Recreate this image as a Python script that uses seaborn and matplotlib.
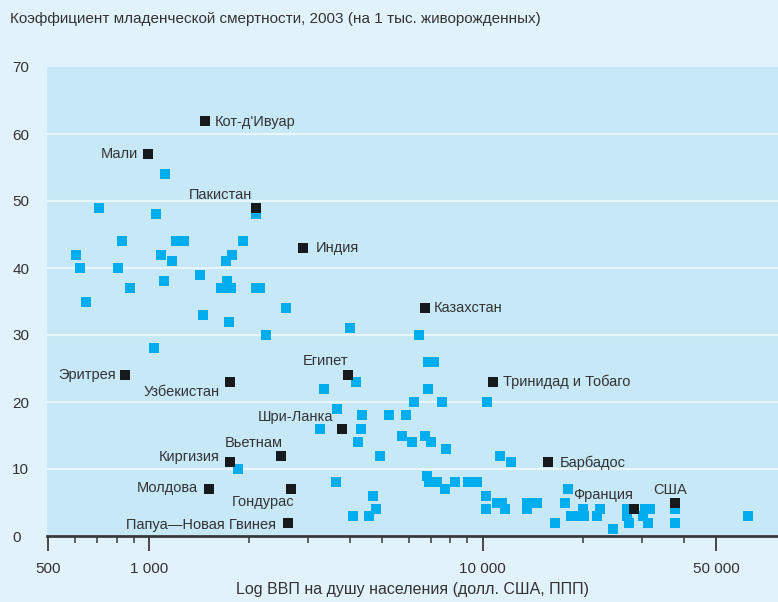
import matplotlib
matplotlib.use("Agg")
import matplotlib.pyplot as plt
import matplotlib.ticker as mticker
import seaborn as sns
import pandas as pd

# ---- data ----
other_gdp = [1114, 707, 1047, 2086, 829, 1202, 1270, 1908, 603, 1084, 1770, 1170, 1698,
             620, 806, 1419, 1107, 1710, 876, 1640, 1757, 2086, 2150, 646, 2583, 1448,
             1733, 3990, 2235, 6427, 1033, 6840, 7129, 4159, 3357, 6840, 6210, 7575,
             10329, 3672, 4335, 5257, 5873, 3265, 4305, 5713, 6699, 4217, 6122, 6983,
             7788, 4909, 11300, 12190, 1844, 6792, 3647, 6887, 7278, 8283, 9058, 9639,
             7734, 18070, 4677, 10260, 11061, 11450, 13610, 14580, 17690, 4775, 10260,
             11695, 13610, 20040, 22510, 27100, 30700, 31800, 37760, 4101, 4579, 18450,
             19230, 20180, 22050, 27100, 30270, 62430, 16510, 27500, 31330, 37760, 24620]
other_imr = [54, 49, 48, 48, 44, 44, 44, 44, 42, 42, 42, 41, 41,
             40, 40, 39, 38, 38, 37, 37, 37, 37, 37, 35, 34, 33,
             32, 31, 30, 30, 28, 26, 26, 23, 22, 22, 20, 20,
             20, 19, 18, 18, 18, 16, 16, 15, 15, 14, 14, 14,
             13, 12, 12, 11, 10, 9, 8, 8, 8, 8, 8, 8,
             7, 7, 6, 6, 5, 5, 5, 5, 5, 4, 4,
             4, 4, 4, 4, 4, 4, 4, 4, 3, 3, 3,
             3, 3, 3, 3, 3, 3, 2, 2, 2, 2, 1]

named_countries = ["Кот-д'Ивуар", "Мали", "Пакистан", "Индия", "Казахстан", "Эритрея",
                   "Узбекистан", "Египет", "Тринидад и Тобаго", "Шри-Ланка", "Вьетнам",
                   "Киргизия", "Барбадос", "Молдова", "Гондурас", "Папуа—Новая Гвинея",
                   "Франция", "США"]
named_gdp = [1468, 991, 2086, 2886, 6699, 846, 1744, 3936, 10760, 3776, 2479,
             1744, 15730, 1509, 2656, 2619, 28460, 37760]
named_imr = [62, 57, 49, 43, 34, 24, 23, 24, 23, 16, 12, 11, 11, 7, 7, 2, 4, 5]

y_ticks = [0, 10, 20, 30, 40, 50, 60, 70]
x_major = [500, 1000, 10000, 50000]
x_major_labels = ["500", "1 000", "10 000", "50 000"]

title = "Коэффициент младенческой смертности, 2003 (на 1 тыс. живорожденных)"
xlabel = "Log ВВП на душу населения (долл. США, ППП)"

# label placement (offset in pixels, alignment)
label_style = {
    "Кот-д'Ивуар": (10, -1, "left"),
    "Мали": (-10, 0, "right"),
    "Пакистан": (-3, 13, "right"),
    "Индия": (13, 0, "left"),
    "Казахстан": (9, 0, "left"),
    "Эритрея": (-9, 0, "right"),
    "Узбекистан": (-10, -10, "right"),
    "Египет": (1, 14, "right"),
    "Тринидад и Тобаго": (10, 0, "left"),
    "Шри-Ланка": (-8, 12, "right"),
    "Вьетнам": (2, 13, "right"),
    "Киргизия": (-10, 5, "right"),
    "Барбадос": (11, 0, "left"),
    "Молдова": (-11, 1, "right"),
    "Гондурас": (4, -13, "right"),
    "Папуа—Новая Гвинея": (-12, -2, "right"),
    "Франция": (-1, 14, "right"),
    "США": (-5, 13, "center"),
}

# ---- style ----
sns.set_theme(style="white")
FONT = ["Liberation Sans Narrow", "Liberation Sans", "DejaVu Sans"]
plt.rcParams["font.family"] = FONT

OUTER = "#e1f2fb"
INNER = "#c6e8f7"
CYAN = "#00aeef"
DARK = "#161a1d"
TEXT = "#333333"

W, H = 778, 602
fig = plt.figure(figsize=(W / 100, H / 100), dpi=100, facecolor=OUTER)
ax = fig.add_axes([47 / W, (H - 536) / H, (778 - 47) / W, (536 - 67) / H])
ax.set_facecolor(INNER)

df_other = pd.DataFrame({"gdp": other_gdp, "imr": other_imr})
df_named = pd.DataFrame({"country": named_countries, "gdp": named_gdp, "imr": named_imr})

ax.set_xscale("log")
for yv in y_ticks[1:-1]:
    ax.axhline(yv, color="#e8f6fd", lw=1.6, zorder=0.5)

sns.scatterplot(data=df_other, x="gdp", y="imr", marker="s", s=44, color=CYAN,
                linewidth=0, ax=ax, zorder=3)
sns.scatterplot(data=df_named, x="gdp", y="imr", marker="s", s=44, color=DARK,
                linewidth=0, ax=ax, zorder=4)

for c, gx, gy in zip(named_countries, named_gdp, named_imr):
    dx, dy, ha = label_style[c]
    ax.annotate(c, (gx, gy), xytext=(dx, dy), textcoords="offset pixels",
                ha=ha, va="center", fontsize=10.5, color=TEXT, zorder=5)

ax.set_xlim(495, 76700)
ax.set_ylim(0, 70)
ax.set_yticks(y_ticks)
ax.set_yticklabels([str(v) for v in y_ticks])
ax.tick_params(axis="y", length=0, pad=25, labelsize=11, labelcolor=TEXT)
for lab in ax.get_yticklabels():
    lab.set_horizontalalignment("left")

ax.xaxis.set_major_locator(mticker.FixedLocator(x_major))
ax.xaxis.set_major_formatter(mticker.FixedFormatter(x_major_labels))
minor = [600, 700, 800, 900] + [k * 1000 for k in range(2, 10)] + [20000, 30000, 40000]
ax.xaxis.set_minor_locator(mticker.FixedLocator(minor))
ax.xaxis.set_minor_formatter(mticker.NullFormatter())
ax.tick_params(axis="x", which="major", length=11, width=1.3, color="#3a3a3a",
               direction="out", labelsize=11, labelcolor=TEXT, pad=8, bottom=True)
ax.tick_params(axis="x", which="minor", length=5, width=1.1, color="#3a3a3a",
               direction="out", bottom=True)

for s in ["top", "right", "left"]:
    ax.spines[s].set_visible(False)
ax.spines["bottom"].set_color("#3a3a3a")
ax.spines["bottom"].set_linewidth(2)

ax.set_xlabel(xlabel, fontsize=11.5, color=TEXT, labelpad=4)
ax.set_ylabel("")
fig.text(10 / W, 1 - 19 / H, title, ha="left", va="center", fontsize=11, color=TEXT)

fig.savefig("out.png", dpi=100, facecolor=OUTER)
